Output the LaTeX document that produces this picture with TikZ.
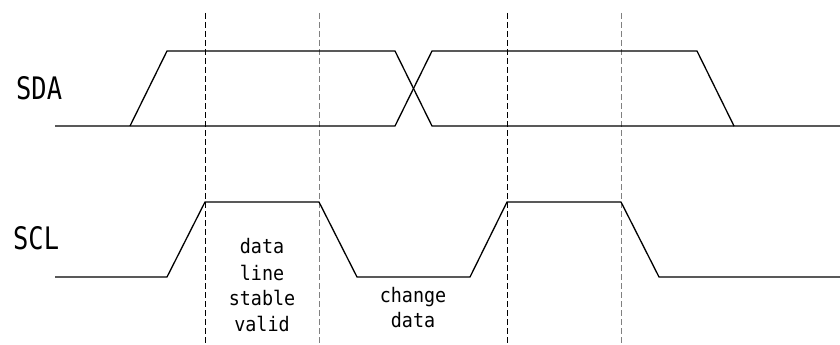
\documentclass[tikz,border=0pt]{standalone}
\usepackage{fontspec}
\newfontfamily\labfont{DejaVu Sans Mono}
\begin{document}
\begin{tikzpicture}[x=1pt,y=-1pt,
  wave/.style={line width=1.3pt,line join=miter},
  guide/.style={line width=1pt,dash pattern=on 6pt off 3pt},
  siglabel/.style={font=\labfont\fontsize{31}{31}\selectfont,anchor=base west,inner sep=0pt,xscale=0.82},
  note/.style={font=\labfont\fontsize{20}{20}\selectfont,anchor=base,inner sep=0pt,xscale=0.92}]
\useasboundingbox (0,0) rectangle (840,345);
% guides
\draw[guide,black] (205,13) -- (205,345);
\draw[guide,gray] (319,13) -- (319,345);
\draw[guide,black] (507,13) -- (507,345);
\draw[guide,gray] (621,13) -- (621,345);
% SDA
\draw[wave] (55,126) -- (395,126) -- (432,51) -- (697,51) -- (734,126) -- (840,126);
\draw[wave] (130,126) -- (167,51) -- (395,51) -- (432,126) -- (734,126);
% SCL
\draw[wave] (55,277) -- (167,277) -- (205,202) -- (319,202) -- (357,277) -- (470,277) -- (507,202) -- (621,202) -- (659,277) -- (840,277);
% labels
\node[siglabel] (sda) at (16,99) {SDA};
\node[siglabel] (scl) at (13,249) {SCL};
\node[note] (n1) at (262,253) {data};
\node[note] (n2) at (262,280) {line};
\node[note] (n3) at (262,305) {stable};
\node[note] (n4) at (262,331) {valid};
\node[note] (c1) at (413,302) {change};
\node[note] (c2) at (413,327) {data};
\end{tikzpicture}
\end{document}
